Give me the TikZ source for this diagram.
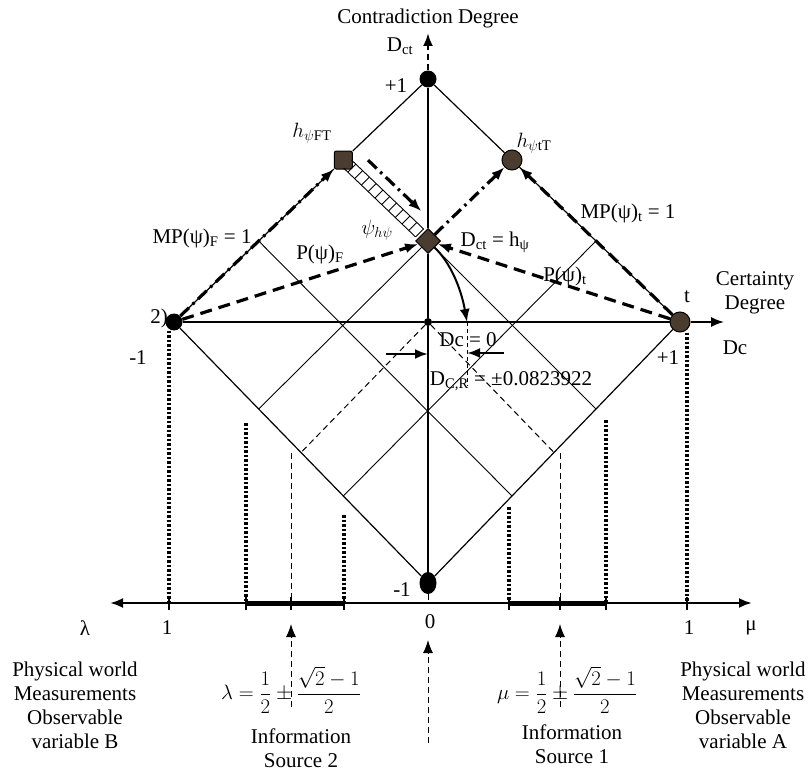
\documentclass[tikz,border=0pt]{standalone}
\usepackage{amsmath}
\usepackage{fontspec}
\setmainfont{Liberation Serif}
\usepackage{xcolor}
\usepackage{tikz}
\usetikzlibrary{positioning, arrows.meta, calc, shapes.geometric}

\definecolor{ptbrown}{RGB}{74,60,47}

\begin{document}
\begin{tikzpicture}[x=1pt,y=-1pt,>={Latex[length=13pt,width=10pt]},font=\fontsize{21}{24}\selectfont,
    vertex/.style={circle,fill=black,inner sep=0pt,minimum size=17pt},
    ptnode/.style={circle,draw=black,line width=1pt,fill=ptbrown,inner sep=0pt,minimum size=20pt},
    rimline/.style={line width=1.2pt},
    gridline/.style={line width=0.9pt},
    heavydash/.style={line width=3.2pt,dash pattern=on 12pt off 7pt},
    heavydashdot/.style={line width=3.2pt,dash pattern=on 12pt off 5pt on 2.5pt off 5pt},
    dotline/.style={line width=3.4pt,dash pattern=on 2.5pt off 2pt},
    thindash/.style={line width=1pt,dash pattern=on 6pt off 4pt}]
    \useasboundingbox (0,0) rectangle (812,773);

    \node[vertex] (T) at (428,79) {};
    \node[vertex,ellipse,minimum width=17pt,minimum height=22pt] (B) at (428,583) {};
    \node[vertex] (L) at (174,322) {};
    \node[ptnode] (R) at (680,322) {};
    \node[vertex,minimum size=8pt] (O) at (428,322) {};
    \node[ptnode,rectangle,rounded corners=2pt,minimum size=18pt] (hFT) at ($(L)!2/3!(T)$) {};
    \node[ptnode] (htT) at ($(T)!1/3!(R)$) {};
    \node[ptnode,diamond,minimum size=25pt] (Dct) at ($(O)!1/3!(T)$) {};

    \coordinate (lt1) at ($(L)!1/3!(T)$);
    \coordinate (tr2) at ($(T)!2/3!(R)$);
    \coordinate (rb1) at ($(R)!1/3!(B)$);
    \coordinate (rb2) at ($(R)!2/3!(B)$);
    \coordinate (bl1) at ($(B)!1/3!(L)$);
    \coordinate (bl2) at ($(B)!2/3!(L)$);
    \coordinate (mbl) at ($(B)!1/2!(L)$);
    \coordinate (mrb) at ($(R)!1/2!(B)$);

    \draw[rimline] (L) -- (hFT) -- (T) -- (htT) -- (R) -- (B) -- (L);
    \draw[gridline] (lt1) -- (rb2);
    \draw[gridline] (tr2) -- (bl1);
    \draw[gridline] (Dct) -- (rb1);
    \draw[gridline] (Dct) -- (bl2);

    \coordinate (dctop) at (428,33);
    \coordinate (dcend) at (724,322);
    \draw[line width=2.5pt] (B) -- (O) -- (Dct) -- (T);
    \draw[->,line width=2.5pt,dash pattern=on 6pt off 4pt] (T) -- (dctop);
    \draw[->,line width=1.6pt] (L) -- (O) -- (R) -- (dcend);

    \foreach \t in {0.1,0.18,...,0.9}
        \draw[gridline] ($(hFT)!\t!(Dct)+(4,-4)$) -- ($(hFT)!\t!(Dct)+(-4,4)$);
    \draw[gridline] ($(hFT)!0.05!(Dct)+(4,-4)$) -- ($(Dct)!0.1!(hFT)+(4,-4)$);
    \draw[gridline] ($(hFT)!0.05!(Dct)+(-4,4)$) -- ($(Dct)!0.1!(hFT)+(-4,4)$);

    \coordinate (fts) at ($(hFT)!0.15!(Dct)+(12,-12)$);
    \coordinate (fte) at ($(hFT)!0.78!(Dct)+(12,-12)$);
    \draw[heavydashdot,->] (fts) -- (fte);
    \draw[heavydashdot,->] (L) -- (hFT);
    \draw[heavydash,->] (R) -- (htT);
    \draw[heavydashdot,->] (Dct) -- (htT);
    \draw[heavydash,->] (L) -- (Dct);
    \draw[heavydash,->] (R) -- (Dct);

    \coordinate (dcr) at (467,322);
    \coordinate (dcrb) at (467,386);
    \coordinate (pushL) at (386,354);
    \coordinate (pushR) at (504,353);
    \draw[line width=0.9pt,dash pattern=on 4pt off 3pt] (dcr) -- (dcrb);
    \draw[->,line width=2.5pt] (pushL) -- (pushL -| O);
    \draw[->,line width=2.5pt] (pushR) -- (pushR -| dcr);
    \draw[->,line width=2pt] (Dct.south east) .. controls (450,262) and (461,288) .. (dcr);

    \draw[thindash] (O) -- (mbl);
    \draw[thindash] (O) -- (mrb);

    \coordinate (axl) at (110,603);
    \coordinate (axr) at (752,603);
    \coordinate (lam1) at (169,603);
    \coordinate (lamhi) at (246,603);
    \coordinate (lammid) at (291,603);
    \coordinate (lamlo) at (344,603);
    \coordinate (zero) at (428,603);
    \coordinate (mulo) at (509,603);
    \coordinate (mumid) at (560,603);
    \coordinate (muhi) at (606,603);
    \coordinate (mu1) at (687,603);
    \draw[<->,line width=2.5pt] (axl) -- (axr);
    \draw[line width=5pt] (lamhi) -- (lamlo);
    \draw[line width=5pt] (mulo) -- (muhi);
    \foreach \p in {lam1,lamhi,lammid,lamlo,mulo,mumid,muhi,mu1}
        \draw[line width=2.5pt] ([yshift=6pt]\p) -- ([yshift=-7pt]\p);

    \coordinate (dA) at (246,423);
    \coordinate (dB) at (344,515);
    \coordinate (dC) at (509,507);
    \coordinate (dD) at (606,420);
    \draw[dotline] (lam1 |- L.south) -- (lam1);
    \draw[dotline] (dA) -- (lamhi);
    \draw[dotline] (dB) -- (lamlo);
    \draw[dotline] (dC) -- (mulo);
    \draw[dotline] (dD) -- (muhi);
    \draw[dotline] (mu1 |- R.south) -- (mu1);

    \draw[thindash] (lammid |- mbl) -- (lammid);
    \draw[thindash] (mumid |- mrb) -- (mumid);
    \draw[thindash] (B) -- (zero);

    \coordinate (srcL) at (291,707);
    \coordinate (tipL) at (291,624);
    \coordinate (srcR) at (560,707);
    \coordinate (tipR) at (560,624);
    \coordinate (srcO) at (428,743);
    \coordinate (tipO) at (428,640);
    \draw[thindash,->] (srcL) -- (tipL);
    \draw[thindash,->] (srcR) -- (tipR);
    \draw[thindash,->] (srcO) -- (tipO);

    \node (title) at (428,18) {Contradiction Degree};
    \node (lDct) at (400,46) {D\textsubscript{ct}};
    \node (lT) at (396,86) {+1};
    \node (lhFT) at (312,133) {$h_{\psi\mathrm{FT}}$};
    \node (lhtT) at (534,143) {$h_{\psi\mathrm{tT}}$};
    \node (lMPF) at (202,238) {MP(ψ)\textsubscript{F} = 1};
    \node (lPF) at (320,254) {P(ψ)\textsubscript{F}};
    \node (lpsi) at (377,230) {$\psi_{h\psi}$};
    \node (lDcth) at (495,242) {D\textsubscript{ct} = h\textsubscript{ψ}};
    \node (lPt) at (565,276) {P(ψ)\textsubscript{t}};
    \node (lMPt) at (628,213) {MP(ψ)\textsubscript{t} = 1};
    \node (lt) at (687,297) {t};
    \node[align=center] (lcert) at (755,293) {Certainty\\Degree};
    \node (lDc) at (735,348) {Dc};
    \node (lR) at (668,358) {+1};
    \node (lL) at (138,358) {-1};
    \node (l2) at (159,318) {2)};
    \node (ldc0) at (468,340) {Dc = 0};
    \node (ldcr) at (511,381) {D\textsubscript{C,R} = ±0.0823922};
    \node (lB) at (402,590) {-1};
    \node (llam) at (85,628) {λ};
    \node (l1a) at (167,628) {1};
    \node (l0) at (430,622) {0};
    \node (l1b) at (689,628) {1};
    \node (lmu) at (751,628) {μ};
    \node (flam) at (291,690) {$\lambda=\dfrac{1}{2}\pm\dfrac{\sqrt{2}-1}{2}$};
    \node (fmu) at (567,690) {$\mu=\dfrac{1}{2}\pm\dfrac{\sqrt{2}-1}{2}$};
    \node[align=center] (physB) at (75,705) {Physical world\\Measurements\\Observable\\variable B};
    \node[align=center] (physA) at (743,705) {Physical world\\Measurements\\Observable\\variable A};
    \node[align=center] (src2) at (301,748) {Information\\Source 2};
    \node[align=center] (src1) at (572,744) {Information\\Source 1};
\end{tikzpicture}
\end{document}
